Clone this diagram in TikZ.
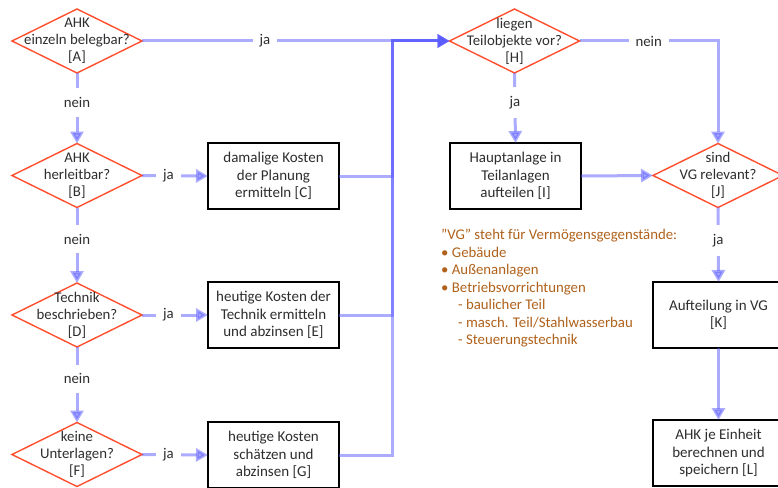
\documentclass[tikz,border=0pt]{standalone}
\usepackage{fontspec}
\setmainfont{Carlito}
\usetikzlibrary{shapes.geometric,arrows.meta,positioning,calc}
\definecolor{flowblue}{HTML}{5A5AFF}
\definecolor{decred}{HTML}{FF4F2E}
\definecolor{txtgray}{HTML}{2E2E2E}
\definecolor{notebrown}{HTML}{B0621C}

\tikzset{
  decision/.style={diamond, draw=decred, line width=1.4pt, minimum width=130pt,
    minimum height=64pt, inner sep=0pt, outer sep=0pt},
  dectext/.style={align=center, text=txtgray, font=\fontsize{14.8}{17}\selectfont},
  process/.style={rectangle, draw=black, line width=1.1pt, minimum width=131pt,
    minimum height=66pt, outer sep=0pt, align=center, text=txtgray,
    font=\fontsize{15}{17.5}\selectfont},
  flow/.style={draw=flowblue, line width=3pt, opacity=0.5,
    -{Triangle[length=12pt,width=13pt]}},
  answer/.style={fill=white, opacity=1, text=txtgray, inner xsep=7pt,
    inner ysep=9pt, font=\fontsize{14.8}{17}\selectfont},
  note/.style={align=left, text=notebrown, inner sep=0pt,
    font=\fontsize{14.8}{17.5}\selectfont}
}

\begin{document}
\begin{tikzpicture}[x=1pt, y=-1pt]
  \useasboundingbox (0,0) rectangle (778,487);
  \clip (0,0) rectangle (778,487);
  \fill[white] (0,0) rectangle (778,487);

  % left column: decisions
  \node[decision] (A) at (77,41) {};
  \node[dectext] (At) at (A) {AHK\\einzeln belegbar?\\{[A]}};
  \node[decision] (B) at (77,175.5) {};
  \node[dectext] (Bt) at (B) {AHK\\herleitbar?\\{[B]}};
  \node[decision] (D) at (77,315) {};
  \node[dectext] (Dt) at (D) {Technik\\beschrieben?\\{[D]}};
  \node[decision] (F) at (77,454.5) {};
  \node[dectext] (Ft) at (F) {keine\\Unterlagen?\\{[F]}};

  % cost boxes
  \node[process] (C) at (273.5,176) {damalige Kosten\\der Planung\\ermitteln [C]};
  \node[process] (E) at (273.5,315) {heutige Kosten der\\Technik ermitteln\\und abzinsen [E]};
  \node[process] (G) at (273.5,455) {heutige Kosten\\schätzen und\\abzinsen [G]};

  % right part
  \node[decision] (H) at (514.5,41) {};
  \node[dectext] (Ht) at (H) {liegen\\Teilobjekte vor?\\{[H]}};
  \node[process] (I) at (515.5,176) {Hauptanlage in\\Teilanlagen\\aufteilen [I]};
  \node[decision] (J) at (718,175.5) {};
  \node[dectext] (Jt) at (J) {sind\\VG relevant?\\{[J]}};
  \node[process] (K) at (718.5,315) {Aufteilung in VG\\{[K]}};
  \node[process] (L) at (718.5,453) {AHK je Einheit\\berechnen und\\speichern [L]};

  \node[note, anchor=north west] (vg) at (441,229) {%
    \symbol{34}VG\symbol{34} steht für Vermögensgegenstände:\\
    • Gebäude\\
    • Außenanlagen\\
    • Betriebsvorrichtungen\\
    \hspace*{17pt}- baulicher Teil\\
    \hspace*{17pt}- masch. Teil/Stahlwasserbau\\
    \hspace*{17pt}- Steuerungstechnik};

  \coordinate (bus) at (392,41);

  % connectors
  \draw[flow] (A.south) -- node[answer, pos=0.42] {nein} (B.north);
  \draw[flow] (B.south) -- node[answer, pos=0.42] {nein} (D.north);
  \draw[flow] (D.south) -- node[answer, pos=0.42] {nein} (F.north);
  \draw[flow] (B.east) -- node[answer, pos=0.4] {ja} (C.west);
  \draw[flow] (D.east) -- node[answer, pos=0.4] {ja} (E.west);
  \draw[flow] (F.east) -- node[answer, pos=0.4] {ja} (G.west);
  \draw[flow] (A.east) -- node[answer, pos=0.4] {ja} (H.west);
  \draw[flow] (C.east) -| (bus) -- (H.west);
  \draw[flow] (E.east) -| (bus) -- (H.west);
  \draw[flow] (G.east) -| (bus) -- (H.west);
  \draw[flow] (H.south) -- node[answer, pos=0.42] {ja} (I.north);
  \draw[flow] (H.east) -| node[answer, pos=0.25] {nein} (J.north);
  \draw[flow] (I.east) -- (J.west);
  \draw[flow] (J.south) -- node[answer, pos=0.44] {ja} (K.north);
  \draw[flow] (K.south) -- (L.north);
\end{tikzpicture}
\end{document}
